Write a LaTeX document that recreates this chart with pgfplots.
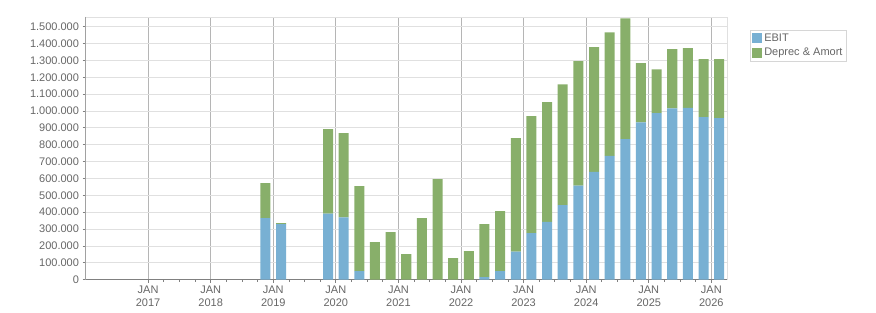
\documentclass[border=0pt]{standalone}
\usepackage{fontspec}
\setmainfont{Liberation Sans}
\usepackage{pgfplots}
\pgfplotsset{compat=1.18}
\definecolor{ebit}{HTML}{78B0D3}
\definecolor{da}{HTML}{88AF6A}
\definecolor{txt}{HTML}{666666}
\definecolor{hgrid}{HTML}{E0E0E0}
\definecolor{vgrid}{HTML}{B5B5B5}
\definecolor{axdark}{HTML}{808080}
\definecolor{legbox}{HTML}{D6D6D6}
\begin{document}
\begin{tikzpicture}
\path[use as bounding box] (-85.5bp,-33.3bp) rectangle (790.5bp,279.7bp);
\begin{axis}[
  scale only axis, width=641.5bp, height=262.7bp,
  xmin=2016, xmax=2026.25, ymin=0, ymax=1557000,
  ybar stacked, bar width=0.16,
  xtick={2017,2018,2019,2020,2021,2022,2023,2024,2025,2026},
  xticklabels={JAN\\2017,JAN\\2018,JAN\\2019,JAN\\2020,JAN\\2021,JAN\\2022,JAN\\2023,JAN\\2024,JAN\\2025,JAN\\2026},
  minor x tick num=3,
  ytick={0,100000,...,1500000},
  scaled y ticks=false,
  /pgf/number format/fixed,
  /pgf/number format/1000 sep={.},
  /pgf/number format/assume math mode=true,
  xtick pos=bottom, ytick pos=left,
  tick align=outside,
  major tick length=3bp, minor tick length=2bp,
  tick style={color=axdark, line width=0.8bp},
  xmajorgrids, ymajorgrids,
  x grid style={color=vgrid, line width=0.9bp},
  y grid style={color=hgrid, line width=0.9bp},
  axis line style={draw=hgrid, line width=0.8bp},
  ticklabel style={font=\fontsize{11bp}{13bp}\selectfont, text=txt},
  xticklabel style={align=center},
  legend style={at={(axis description cs:1.036,0.95)}, anchor=north west,
    draw=legbox, font=\fontsize{11bp}{13bp}\selectfont, text=txt,
    inner xsep=2bp, inner ysep=1.5bp, row sep=1.5bp},
  legend cell align=left,
  legend image code/.code={\path[#1,draw=none] (0bp,-5bp) rectangle (10bp,5bp);},
]
\addplot[fill=ebit, draw=none] coordinates {
(2018.875,365000) (2019.125,329000) (2019.875,391000) (2020.125,369000)
(2020.375,51000) (2020.625,0) (2020.875,0) (2021.125,0) (2021.375,0)
(2021.625,0) (2021.875,0) (2022.125,0) (2022.375,16000) (2022.625,51000)
(2022.875,166000) (2023.125,276000) (2023.375,343000) (2023.625,442000)
(2023.875,557000) (2024.125,639000) (2024.375,734000) (2024.625,833000)
(2024.875,933000) (2025.125,987000) (2025.375,1016000) (2025.625,1018000)
(2025.875,963000) (2026.125,957000)
};
\addlegendentry{EBIT}
\addplot[fill=da, draw=none] coordinates {
(2018.875,207000) (2019.125,6000) (2019.875,501000) (2020.125,499000)
(2020.375,504000) (2020.625,223000) (2020.875,282000) (2021.125,152000) (2021.375,365000)
(2021.625,596000) (2021.875,128000) (2022.125,170000) (2022.375,314000) (2022.625,356000)
(2022.875,673000) (2023.125,693000) (2023.375,709000) (2023.625,716000)
(2023.875,738000) (2024.125,739000) (2024.375,732000) (2024.625,716000)
(2024.875,350000) (2025.125,260000) (2025.375,350000) (2025.625,354000)
(2025.875,344000) (2026.125,350000)
};
\addlegendentry{Deprec \& Amort}
\draw[axdark, line width=0.9bp] (rel axis cs:0,1) -- (rel axis cs:0,0) -- (rel axis cs:1,0);
\end{axis}
\end{tikzpicture}
\end{document}
